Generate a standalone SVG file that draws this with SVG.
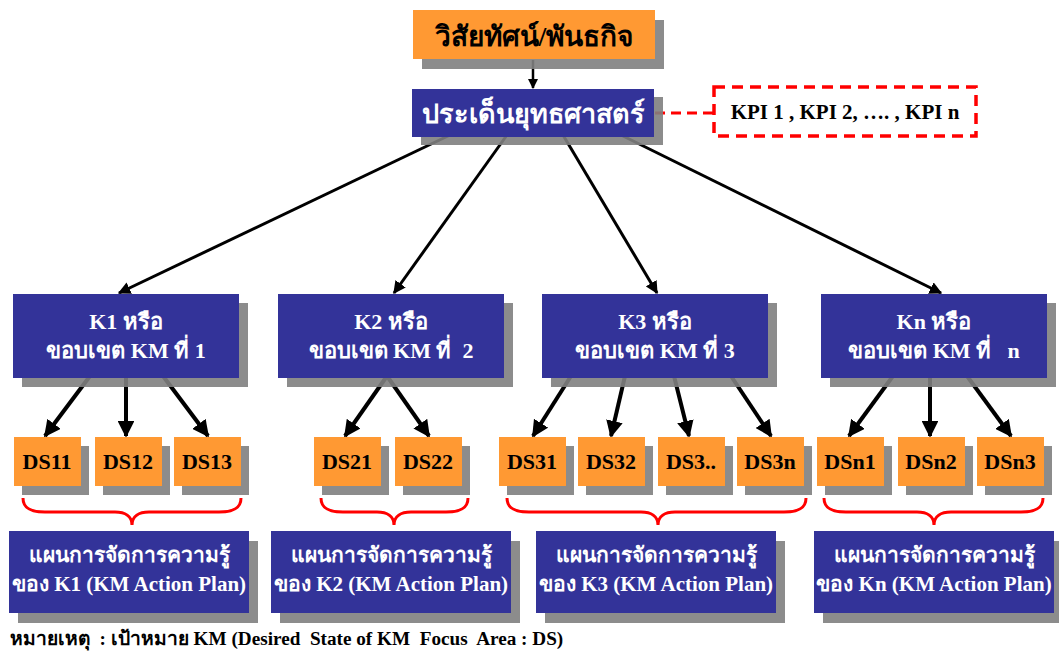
<svg xmlns="http://www.w3.org/2000/svg" width="1059" height="655" viewBox="0 0 1059 655">
<defs>
<marker id="ah" viewBox="0 0 10 10" refX="9" refY="5" markerWidth="4.2" markerHeight="4.2" orient="auto" markerUnits="strokeWidth">
<path d="M0,0 L10,5 L0,10 z" fill="#000"/>
</marker>
</defs>
<style>
.sh{fill:#808080;opacity:0.9}
.bl{fill:#333399}
.or{fill:#FF9933}
.t{font-family:"Liberation Serif","Noto Sans",serif;font-weight:bold;text-anchor:middle}
.w{fill:#fff}
.k{fill:#000}
.c{stroke:#000;fill:none;marker-end:url(#ah)}
.c1{stroke-width:3}
.c2{stroke-width:4}
.br{stroke:#FF0000;stroke-width:3;fill:none}
</style>
<rect width="1059" height="655" fill="#fff"/>
<g id="connectors">
<line class="c" x1="533" y1="60" x2="533" y2="88" stroke-width="2.5"/>
<line x1="655" y1="113" x2="713" y2="113" stroke="#FF0000" stroke-width="3" stroke-dasharray="10,6"/>
<line class="c c1" x1="450" y1="135" x2="119" y2="293"/>
<line class="c c1" x1="507" y1="135" x2="394" y2="293"/>
<line class="c c1" x1="563" y1="135" x2="657" y2="293"/>
<line class="c c1" x1="621" y1="135" x2="941" y2="293"/>
<line class="c c2" x1="90" y1="376" x2="45" y2="436"/>
<line class="c c2" x1="126" y1="376" x2="126" y2="436"/>
<line class="c c2" x1="163" y1="376" x2="208" y2="436"/>
<line class="c c2" x1="387" y1="376" x2="345" y2="436"/>
<line class="c c2" x1="387" y1="376" x2="429" y2="436"/>
<line class="c c2" x1="571" y1="376" x2="533" y2="436"/>
<line class="c c2" x1="625" y1="376" x2="611" y2="436"/>
<line class="c c2" x1="674" y1="376" x2="689" y2="436"/>
<line class="c c2" x1="731" y1="376" x2="771" y2="436"/>
<line class="c c2" x1="893" y1="376" x2="849" y2="436"/>
<line class="c c2" x1="930" y1="376" x2="930" y2="436"/>
<line class="c c2" x1="967" y1="376" x2="1011" y2="436"/>
</g>
<g id="vision">
<rect class="sh" x="422" y="20" width="242" height="49"/>
<rect class="or" x="413" y="10" width="242" height="49"/>
<text class="t k" x="534" y="46" font-size="28">วิสัยทัศน์/พันธกิจ</text>
</g>
<g id="strategy">
<rect class="sh" x="421" y="97" width="242" height="48"/>
<rect class="bl" x="412" y="89" width="242" height="48"/>
<text class="t w" x="533" y="123" font-size="27">ประเด็นยุทธศาสตร์</text>
</g>
<g id="kpi">
<rect x="714" y="87" width="262" height="49" fill="none" stroke="#FF0000" stroke-width="3.5" stroke-dasharray="11,7"/>
<text class="t k" x="845" y="119" font-size="21">KPI 1 , KPI 2, …. , KPI n</text>
</g>
<g id="k1">
<rect class="sh" x="22" y="303" width="226" height="84"/>
<rect class="bl" x="13" y="294" width="226" height="84"/>
<text class="t w" x="126" y="329" font-size="22">K1 หรือ</text>
<text class="t w" x="126" y="358" font-size="22">ขอบเขต KM ที่ 1</text>
</g>
<g id="k2">
<rect class="sh" x="287" y="303" width="226" height="84"/>
<rect class="bl" x="278" y="294" width="226" height="84"/>
<text class="t w" x="391" y="329" font-size="22">K2 หรือ</text>
<text class="t w" x="391" y="358" font-size="22" xml:space="preserve">ขอบเขต KM ที่  2</text>
</g>
<g id="k3">
<rect class="sh" x="551" y="303" width="226" height="84"/>
<rect class="bl" x="542" y="294" width="226" height="84"/>
<text class="t w" x="655" y="329" font-size="22">K3 หรือ</text>
<text class="t w" x="655" y="358" font-size="22">ขอบเขต KM ที่ 3</text>
</g>
<g id="kn">
<rect class="sh" x="830" y="303" width="226" height="84"/>
<rect class="bl" x="821" y="294" width="226" height="84"/>
<text class="t w" x="934" y="329" font-size="22">Kn หรือ</text>
<text class="t w" x="934" y="358" font-size="22" xml:space="preserve">ขอบเขต KM ที่   n</text>
</g>
<g id="ds11"><rect class="sh" x="22" y="446" width="67" height="49"/><rect class="or" x="14" y="437" width="67" height="49"/><text class="t k" x="47" y="469" font-size="22">DS11</text></g>
<g id="ds12"><rect class="sh" x="103" y="446" width="67" height="49"/><rect class="or" x="95" y="437" width="67" height="49"/><text class="t k" x="128" y="469" font-size="22">DS12</text></g>
<g id="ds13"><rect class="sh" x="182" y="446" width="67" height="49"/><rect class="or" x="174" y="437" width="67" height="49"/><text class="t k" x="207" y="469" font-size="22">DS13</text></g>
<g id="ds21"><rect class="sh" x="322" y="446" width="67" height="49"/><rect class="or" x="314" y="437" width="67" height="49"/><text class="t k" x="347" y="469" font-size="22">DS21</text></g>
<g id="ds22"><rect class="sh" x="403" y="446" width="67" height="49"/><rect class="or" x="395" y="437" width="67" height="49"/><text class="t k" x="428" y="469" font-size="22">DS22</text></g>
<g id="ds31"><rect class="sh" x="507" y="446" width="67" height="49"/><rect class="or" x="499" y="437" width="67" height="49"/><text class="t k" x="532" y="469" font-size="22">DS31</text></g>
<g id="ds32"><rect class="sh" x="586" y="446" width="67" height="49"/><rect class="or" x="578" y="437" width="67" height="49"/><text class="t k" x="611" y="469" font-size="22">DS32</text></g>
<g id="ds3x"><rect class="sh" x="666" y="446" width="67" height="49"/><rect class="or" x="658" y="437" width="67" height="49"/><text class="t k" x="691" y="469" font-size="22">DS3..</text></g>
<g id="ds3n"><rect class="sh" x="745" y="446" width="67" height="49"/><rect class="or" x="737" y="437" width="67" height="49"/><text class="t k" x="770" y="469" font-size="22">DS3n</text></g>
<g id="dsn1"><rect class="sh" x="825" y="446" width="67" height="49"/><rect class="or" x="817" y="437" width="67" height="49"/><text class="t k" x="850" y="469" font-size="22">DSn1</text></g>
<g id="dsn2"><rect class="sh" x="906" y="446" width="67" height="49"/><rect class="or" x="898" y="437" width="67" height="49"/><text class="t k" x="931" y="469" font-size="22">DSn2</text></g>
<g id="dsn3"><rect class="sh" x="985" y="446" width="67" height="49"/><rect class="or" x="977" y="437" width="67" height="49"/><text class="t k" x="1010" y="469" font-size="22">DSn3</text></g>
<g id="braces">
<path class="br" d="M23,498 C23,508 30,512 45,512 L115,512 C125,512 132,516 132,525 C132,516 139,512 149,512 L219,512 C234,512 241,508 241,498"/>
<path class="br" d="M321,498 C321,508 328,512 343,512 L377,512 C387,512 394,516 394,525 C394,516 401,512 411,512 L446,512 C461,512 468,508 468,498"/>
<path class="br" d="M507,498 C507,508 514,512 529,512 L641,512 C651,512 658,516 658,525 C658,516 665,512 675,512 L784,512 C799,512 806,508 806,498"/>
<path class="br" d="M824,498 C824,508 831,512 846,512 L917,512 C927,512 934,516 934,525 C934,516 941,512 951,512 L1021,512 C1036,512 1043,508 1043,498"/>
</g>
<g id="plan1">
<rect class="sh" x="18" y="541" width="240" height="82"/>
<rect class="bl" x="9" y="531" width="240" height="82"/>
<text class="t w" x="129" y="562" font-size="21">แผนการจัดการความรู้</text>
<text class="t w" x="129" y="591" font-size="21">ของ K1 (KM Action Plan)</text>
</g>
<g id="plan2">
<rect class="sh" x="280" y="541" width="240" height="82"/>
<rect class="bl" x="271" y="531" width="240" height="82"/>
<text class="t w" x="391" y="562" font-size="21">แผนการจัดการความรู้</text>
<text class="t w" x="391" y="591" font-size="21">ของ K2 (KM Action Plan)</text>
</g>
<g id="plan3">
<rect class="sh" x="545" y="541" width="240" height="82"/>
<rect class="bl" x="536" y="531" width="240" height="82"/>
<text class="t w" x="656" y="562" font-size="21">แผนการจัดการความรู้</text>
<text class="t w" x="656" y="591" font-size="21">ของ K3 (KM Action Plan)</text>
</g>
<g id="plann">
<rect class="sh" x="823" y="541" width="240" height="82"/>
<rect class="bl" x="814" y="531" width="240" height="82"/>
<text class="t w" x="934" y="562" font-size="21">แผนการจัดการความรู้</text>
<text class="t w" x="934" y="591" font-size="21">ของ Kn (KM Action Plan)</text>
</g>
<text x="10" y="645" font-family="Liberation Serif, Noto Sans, serif" font-weight="bold" font-size="19.2" fill="#000" xml:space="preserve">หมายเหตุ  : เป้าหมาย KM (Desired  State of KM  Focus  Area : DS)</text>
</svg>
